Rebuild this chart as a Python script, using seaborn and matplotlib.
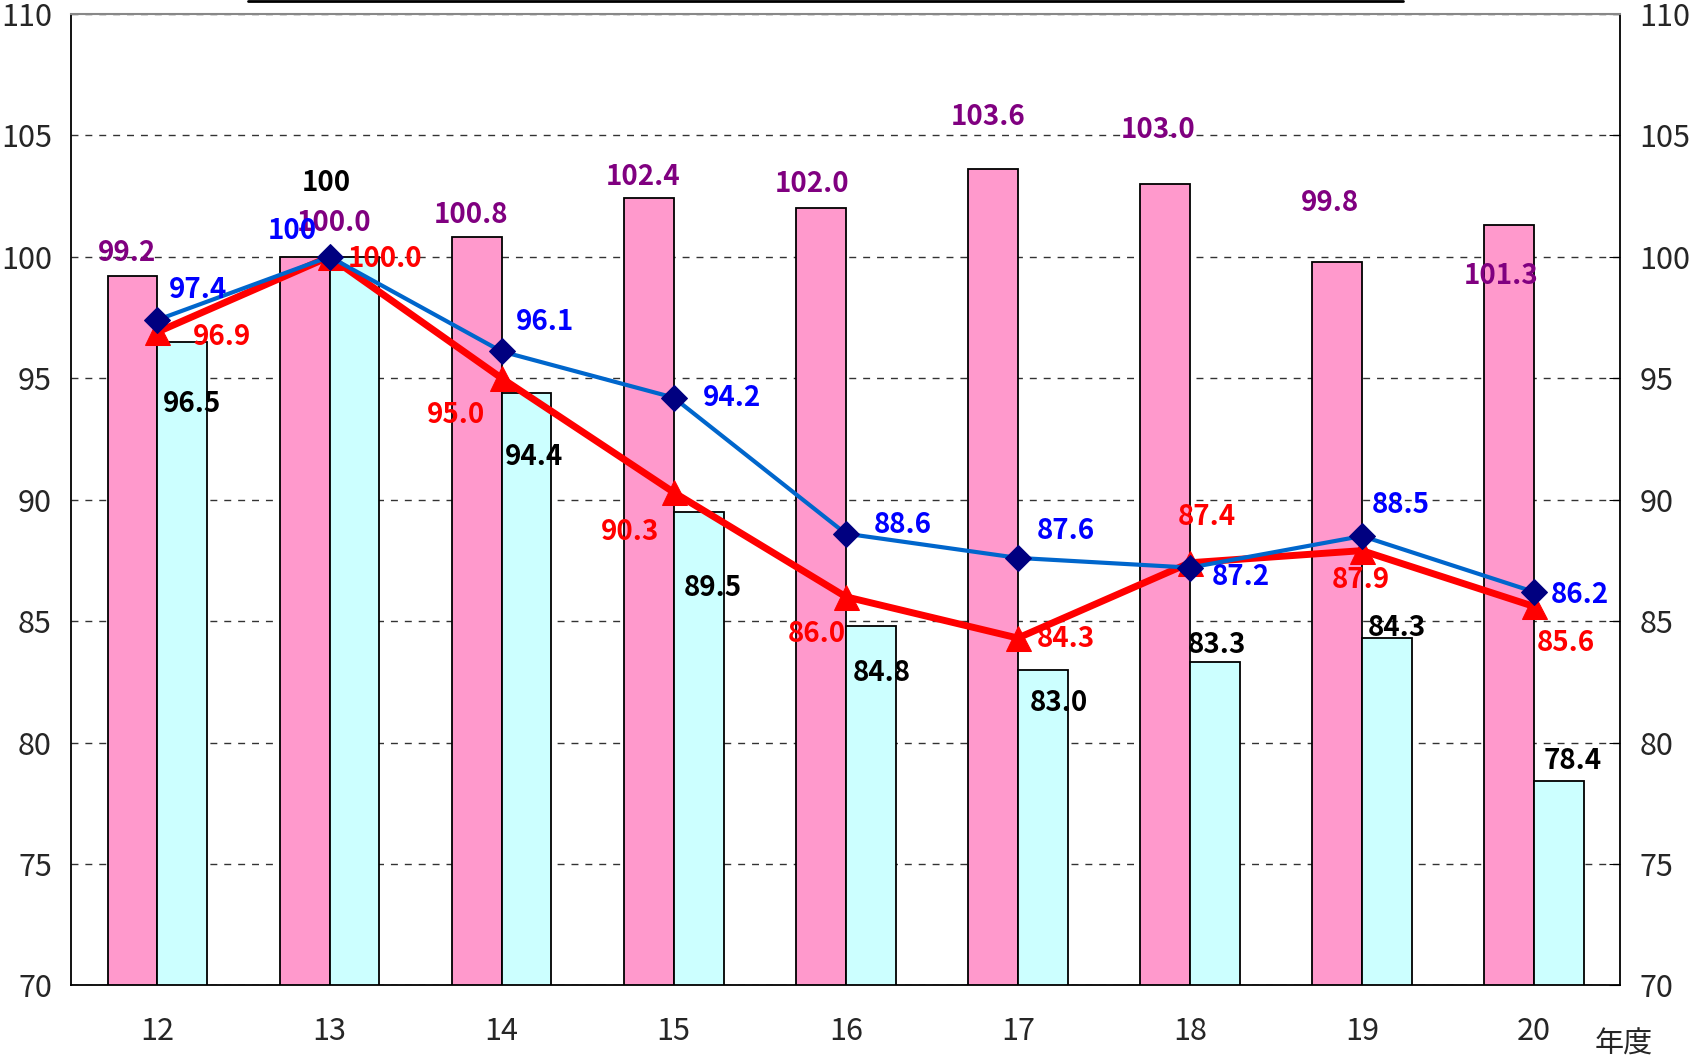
import numpy as np
import pandas as pd
import matplotlib
matplotlib.use("Agg")
import matplotlib.pyplot as plt
import seaborn as sns

# --- data ---
years = ["12", "13", "14", "15", "16", "17", "18", "19", "20"]
pink_vals = [99.2, 100.0, 100.8, 102.4, 102.0, 103.6, 103.0, 99.8, 101.3]
cyan_vals = [96.5, 100, 94.4, 89.5, 84.8, 83.0, 83.3, 84.3, 78.4]
blue_vals = [97.4, 100, 96.1, 94.2, 88.6, 87.6, 87.2, 88.5, 86.2]
red_vals = [96.9, 100.0, 95.0, 90.3, 86.0, 84.3, 87.4, 87.9, 85.6]

pink_text = ["99.2", "100.0", "100.8", "102.4", "102.0", "103.6", "103.0", "99.8", "101.3"]
cyan_text = ["96.5", "100", "94.4", "89.5", "84.8", "83.0", "83.3", "84.3", "78.4"]
blue_text = ["97.4", "100", "96.1", "94.2", "88.6", "87.6", "87.2", "88.5", "86.2"]
red_text = ["96.9", "100.0", "95.0", "90.3", "86.0", "84.3", "87.4", "87.9", "85.6"]

# label offsets in screen pixels (dx right, dy down) from the mark
pink_off = [(-5, -21), (27, -31), (-5, -21), (-5, -20), (-8, -22), (-4, -48), (-6, -50), (-7, -54), (-7, 47)]
cyan_off = [(9, 57), (-26, -68), (7, 59), (13, 70), (10, 43), (15, 31), (2, -16), (9, -9), (13, -19)]
blue_off = [(37, -28), (-34, -24), (40, -27), (54, 0), (53, -8), (44, -25), (47, 9), (36, -29), (42, 3)]
red_off = [(60, 5), (51, 2), (-42, 34), (-40, 37), (-27, 34), (44, 1), (16, -42), (-1, 27), (29, 34)]

sns.set_style("white")
plt.rcParams["font.family"] = ["Noto Sans CJK JP", "DejaVu Sans"]

fig = plt.figure(figsize=(17, 10.63), dpi=100)
ax = fig.add_axes([0.042, 0.073, 0.911, 0.914])

df = pd.DataFrame({
    "year": years * 2,
    "value": pink_vals + cyan_vals,
    "series": ["pink"] * len(years) + ["cyan"] * len(years),
})
sns.barplot(data=df, x="year", y="value", hue="series", ax=ax,
            palette={"pink": "#FF99CC", "cyan": "#CCFFFF"}, saturation=1,
            width=0.58, edgecolor="black", linewidth=1.3, legend=False, zorder=2)

xs = np.arange(len(years))
sns.lineplot(x=xs, y=blue_vals, ax=ax, color="#0066CC", linewidth=3, sort=False,
             marker="D", markersize=13, markerfacecolor="#000080", markeredgecolor="#000080", zorder=4)
sns.lineplot(x=xs, y=red_vals, ax=ax, color="#FF0000", linewidth=5, sort=False,
             marker="^", markersize=18, markerfacecolor="#FF0000", markeredgecolor="#FF0000", zorder=3)

ax.set_xlim(-0.5, len(years) - 0.5)
ax.set_ylim(70, 110)
ax.set_yticks(range(70, 111, 5))
ax.yaxis.grid(True, linestyle=(0, (5, 5)), color="#333333", linewidth=1)
ax.set_axisbelow(True)
ax.set_xlabel("")
ax.set_ylabel("")

ax.tick_params(axis="y", direction="in", length=8, right=True, labelright=True,
               labelsize=22, pad=14, color="black")
ax.tick_params(axis="x", length=0, labelsize=22, pad=22)
for s in ["left", "right", "bottom"]:
    ax.spines[s].set_color("black")
    ax.spines[s].set_linewidth(1.3)
ax.spines["top"].set_color("#888888")
ax.spines["top"].set_linewidth(1.5)

PX = 1.0842 * 0.72  # screen px of the reference view -> points


def put(xv, yv, txt, off, color):
    ax.annotate(txt, (xv, yv), xytext=(off[0] * PX, -off[1] * PX),
                textcoords="offset points", ha="center", va="center",
                fontsize=20, fontweight="bold", color=color, zorder=6)


bw = 0.29
for i in range(len(years)):
    put(i - bw / 2, pink_vals[i], pink_text[i], pink_off[i], "#800080")
    put(i + bw / 2, cyan_vals[i], cyan_text[i], cyan_off[i], "black")
    put(i, blue_vals[i], blue_text[i], blue_off[i], "#0000FF")
    put(i, red_vals[i], red_text[i], red_off[i], "#FF0000")

fig.text(0.955, 0.017, "年度", fontsize=21, ha="center", va="center")

# clipped frame line at the very top of the picture
fig.add_artist(plt.Line2D([248 / 1700, 1403 / 1700], [0.999, 0.999],
                          transform=fig.transFigure, color="black", linewidth=2))

fig.savefig("out.png", dpi=100)
